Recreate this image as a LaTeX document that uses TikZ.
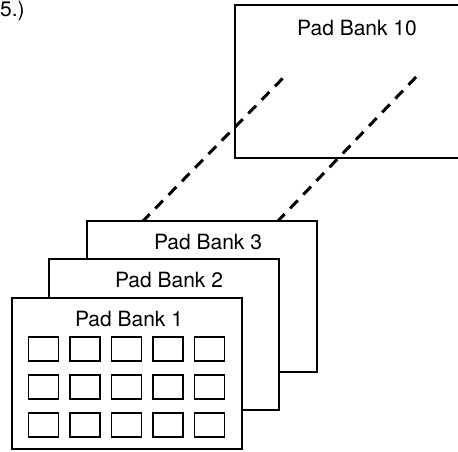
\documentclass[tikz,border=0pt]{standalone}
\usepackage{fontspec}
\setmainfont{TeX Gyre Heros}
\begin{document}
\begin{tikzpicture}[x=1pt,y=-1pt,
  bank/.style={draw=black,line width=2pt,fill=white},
  pad/.style={draw=black,line width=1.8pt,minimum width=30pt,minimum height=24pt,inner sep=0pt},
  lbl/.style={font=\fontsize{21}{25}\selectfont,inner sep=0pt},
  link/.style={draw=black,line width=3pt,dash pattern=on 11pt off 8pt}]
\useasboundingbox (0,0) rectangle (458,451);
\node[lbl,anchor=north west] (num) at (0,1) {5.)};
% Pad Bank 10
\draw[line width=2pt] (470,5) -- (235,5) -- (235,158) -- (470,158);
\node[lbl] (t10) at (357,28) {Pad Bank 10};
% dashed links
\coordinate (a1) at (142,222);
\coordinate (a2) at (285,76);
\coordinate (b1) at (277,222);
\coordinate (b2) at (417,76);
\draw[link] (a1) -- (a2);
\draw[link] (b1) -- (b2);
% Pad Bank 3
\draw[bank] (87,221) rectangle (317,372);
\node[lbl] (t3) at (208,242) {Pad Bank 3};
% Pad Bank 2
\draw[bank] (49,259) rectangle (279,410);
\node[lbl] (t2) at (169,280) {Pad Bank 2};
% Pad Bank 1
\draw[bank] (12,298) rectangle (242,449);
\node[lbl] (t1) at (129,319) {Pad Bank 1};
\foreach \r/\y in {1/349,2/387,3/425}{
  \foreach \c/\x in {1/43.5,2/85,3/126.5,4/168,5/209.5}{
    \node[pad] (p\r\c) at (\x,\y) {};
  }
}
\end{tikzpicture}
\end{document}
